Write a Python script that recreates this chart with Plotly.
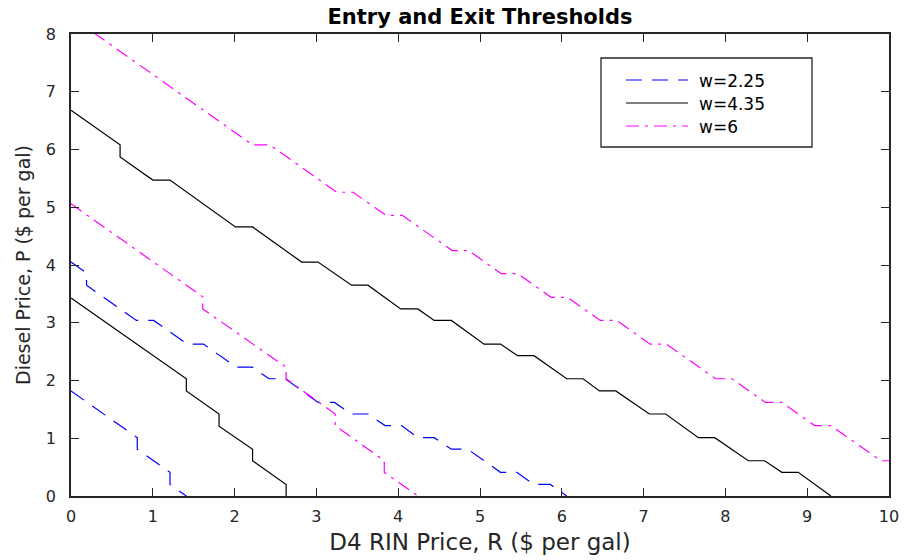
import plotly.graph_objects as go

# ---------------- data ----------------
# w = 2.25 (blue, dashed)
w225_upper_R = [0, 0.19, 0.19, 0.80, 1.01, 1.42, 1.62, 2.02, 2.22, 2.42, 2.62, 3.02, 3.22, 3.43, 3.63,
                3.84, 4.04, 4.24, 4.44, 4.65, 4.85, 5.25, 5.45, 5.66, 5.86, 6.06]
w225_upper_P = [4.05, 3.86, 3.65, 3.04, 3.04, 2.63, 2.63, 2.23, 2.23, 2.03, 2.03, 1.62, 1.62, 1.42, 1.42,
                1.22, 1.22, 1.01, 1.01, 0.81, 0.81, 0.41, 0.41, 0.20, 0.20, 0]
w225_lower_R = [0, 0.81, 0.81, 1.21, 1.21, 1.41]
w225_lower_P = [1.82, 1.01, 0.81, 0.41, 0.20, 0]

# w = 4.35 (black, solid)
w435_upper_R = [0, 0.6, 0.6, 1.0, 1.21, 2.01, 2.22, 2.82, 3.02, 3.43, 3.63, 4.03, 4.24, 4.44, 4.65, 5.05,
                5.25, 5.46, 5.66, 6.06, 6.26, 6.46, 6.66, 7.07, 7.27, 7.67, 7.87, 8.28, 8.48, 8.69, 8.89, 9.29]
w435_upper_P = [6.68, 6.08, 5.87, 5.47, 5.47, 4.66, 4.66, 4.05, 4.05, 3.65, 3.65, 3.24, 3.24, 3.04, 3.04, 2.63,
                2.63, 2.43, 2.43, 2.03, 2.03, 1.82, 1.82, 1.42, 1.42, 1.01, 1.01, 0.61, 0.61, 0.41, 0.41, 0]
w435_lower_R = [0, 1.41, 1.41, 1.81, 1.81, 2.22, 2.22, 2.63, 2.63]
w435_lower_P = [3.43, 2.03, 1.82, 1.42, 1.21, 0.81, 0.61, 0.20, 0]

# w = 6 (magenta, dash-dot)
w6_upper_R = [0, 2.22, 2.43, 3.25, 3.45, 3.85, 4.05, 4.66, 4.86, 5.26, 5.46, 5.87, 6.07, 6.47, 6.67,
              7.08, 7.28, 7.88, 8.08, 8.49, 8.69, 9.09, 9.29, 9.90, 10.0]
w6_upper_P = [8.30, 6.08, 6.08, 5.26, 5.26, 4.86, 4.86, 4.25, 4.25, 3.85, 3.85, 3.44, 3.44, 3.04, 3.04,
              2.63, 2.63, 2.03, 2.03, 1.62, 1.62, 1.22, 1.22, 0.61, 0.61]
w6_lower_R = [0, 1.61, 1.61, 2.63, 2.63, 3.23, 3.23, 3.83, 3.83, 4.24]
w6_lower_P = [5.06, 3.45, 3.24, 2.23, 2.03, 1.42, 1.22, 0.61, 0.41, 0]

legend_labels = ["w=2.25", "w=4.35", "w=6"]
x_ticks = list(range(0, 11))
y_ticks = list(range(0, 9))

# ---------------- styles ----------------
BLUE, BLACK, MAGENTA = "#0000FF", "#000000", "#FF00FF"
DASH_BLUE = "16px,10px"
DASH_MAG = "13px,6px,3px,6px"
AX = "#262626"
FONT = "DejaVu Sans"

series = [
    (w225_upper_R, w225_upper_P, BLUE, DASH_BLUE, legend_labels[0]),
    (w225_lower_R, w225_lower_P, BLUE, DASH_BLUE, legend_labels[0]),
    (w435_upper_R, w435_upper_P, BLACK, "solid", legend_labels[1]),
    (w435_lower_R, w435_lower_P, BLACK, "solid", legend_labels[1]),
    (w6_upper_R, w6_upper_P, MAGENTA, DASH_MAG, legend_labels[2]),
    (w6_lower_R, w6_lower_P, MAGENTA, DASH_MAG, legend_labels[2]),
]

fig = go.Figure()
for R, P, col, dash, name in series:
    fig.add_trace(go.Scatter(x=R, y=P, mode="lines", name=name, showlegend=False,
                             line=dict(color=col, width=1.2, dash=dash)))

# plot area in px: left 71, right 889, top 34, bottom 496
W, H = 904, 560
L, Rr, T, B = 71, 889, 34, 496
pw, ph = Rr - L, B - T

def px2paper(x, y):
    return (x - L) / pw, (B - y) / ph

# manual legend (MATLAB style)
bx0, by0 = px2paper(601, 147)
bx1, by1 = px2paper(812, 58)
shapes = [dict(type="rect", xref="paper", yref="paper", x0=bx0, y0=by0, x1=bx1, y1=by1,
               line=dict(color=AX, width=1.3), fillcolor="white", layer="above")]
annotations = []
leg_items = [(BLUE, DASH_BLUE, 80), (BLACK, "solid", 103), (MAGENTA, DASH_MAG, 126)]
for (col, dash, ypx), lab in zip(leg_items, legend_labels):
    lx0, ly = px2paper(626, ypx)
    lx1, _ = px2paper(688, ypx)
    shapes.append(dict(type="line", xref="paper", yref="paper", x0=lx0, x1=lx1, y0=ly, y1=ly,
                       line=dict(color=col, width=1.2, dash=dash), layer="above"))
    tx, ty = px2paper(697, ypx + 1)
    annotations.append(dict(xref="paper", yref="paper", x=tx, y=ty, text=lab, showarrow=False,
                            xanchor="left", yanchor="middle",
                            font=dict(family=FONT, size=17, color="#000000")))

axis_common = dict(showline=True, linecolor=AX, linewidth=1.5, mirror="ticks",
                   ticks="inside", ticklen=8, tickwidth=1.3, tickcolor=AX,
                   showgrid=False, zeroline=False, automargin=False,
                   tickfont=dict(family=FONT, size=16, color=AX))

fig.update_layout(
    width=W, height=H,
    margin=dict(l=L, r=W - Rr, t=T, b=H - B, pad=0, autoexpand=False),
    paper_bgcolor="white", plot_bgcolor="white",
    title=dict(text="Entry and Exit Thresholds", x=0.5, xref="paper", xanchor="center",
               y=1 - 17 / H, yref="container", yanchor="middle",
               font=dict(family=FONT, size=21, color="#000000", weight="bold")),
    xaxis=dict(range=[0, 10], tickvals=x_ticks, ticklabelstandoff=5, **axis_common,
               title=dict(text="D4 RIN Price, R ($ per gal)", standoff=9,
                          font=dict(family=FONT, size=23, color=AX))),
    yaxis=dict(range=[0, 8], tickvals=y_ticks, ticklabelstandoff=10, **axis_common,
               title=dict(text="Diesel Price, P ($ per gal)", standoff=10,
                          font=dict(family=FONT, size=19, color=AX))),
    shapes=shapes, annotations=annotations,
)

fig.write_html("out.html")
